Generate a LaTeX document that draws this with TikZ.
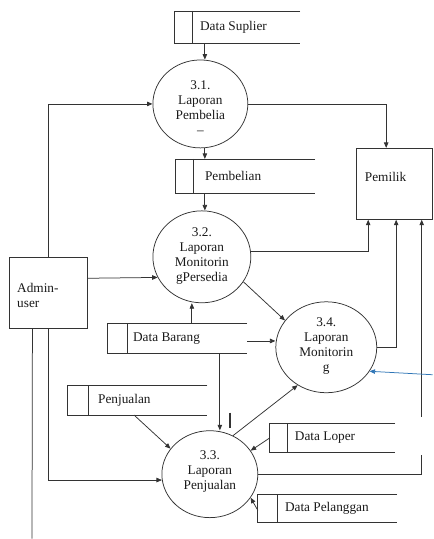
\documentclass[tikz,border=0pt]{standalone}
\usepackage{fontspec}
\setmainfont{Liberation Serif}
\usetikzlibrary{arrows.meta,shapes.geometric}
\definecolor{ln}{HTML}{333333}
\definecolor{tx}{HTML}{1A1A1A}
\definecolor{blueln}{RGB}{46,117,182}

\tikzset{
  ln/.style={draw=ln, line width=0.75pt},
  arr/.style={ln, -{Triangle[length=5.5pt,width=4.5pt]}},
  proc/.style={ellipse, draw=ln, line width=0.75pt, inner sep=0pt},
  ent/.style={rectangle, draw=ln, line width=0.9pt, inner sep=0pt, anchor=north west},
  storefrm/.style={rectangle, inner sep=0pt, anchor=north west},
  lbl/.style={inner sep=0pt, text=tx, font=\fontsize{13.3pt}{15pt}\selectfont},
}

% data store: name, left, top, width, height, divider offset, text gap, text
\newcommand\dfdstore[8]{%
  \node[storefrm, minimum width=#4pt, minimum height=#5pt] (#1) at (#2,#3) {};
  \draw[ln] (#1.north east) -| (#1.south west) -- (#1.south east);
  \draw[ln] ([xshift=#6pt]#1.north west) -- ([xshift=#6pt]#1.south west);
  \node[lbl, anchor=west] (#1-t) at ([xshift=#6pt+#7pt]#1.west) {#8};
}

\begin{document}
\begin{tikzpicture}[x=1pt, y=-1pt]
  \fill[white] (0,0) rectangle (433,539);

  % processes
  \node[proc, minimum width=95pt, minimum height=88pt] (p31) at (200.5,104) {};
  \node[proc, minimum width=98pt, minimum height=92pt] (p32) at (202,257) {};
  \node[proc, minimum width=101pt, minimum height=91pt] (p34) at (326.5,347.5) {};
  \node[proc, minimum width=96pt, minimum height=87pt] (p33) at (210,474.5) {};

  \node[lbl, align=center, yshift=-3.5pt] (p31-t) at (p31) {3.1.\\Laporan\\Pembelia\\--};
  \node[lbl, align=center, yshift=1pt] (p32-t) at (p32) {3.2.\\Laporan\\Monitorin\\gPersedia};
  \node[lbl, align=center, yshift=1pt] (p34-t) at (p34) {3.4.\\Laporan\\Monitorin\\g};
  \node[lbl, align=center, yshift=2.5pt] (p33-t) at (p33) {3.3.\\Laporan\\Penjualan};

  % external entities
  \node[ent, minimum width=78pt, minimum height=71pt] (admin) at (9,257) {};
  \node[lbl, align=left, anchor=west, xshift=8pt, yshift=-2.5pt] (admin-t) at (admin.west) {Admin-\\user};
  \node[ent, minimum width=76pt, minimum height=71pt] (pemilik) at (356,148) {};
  \node[lbl, anchor=west, xshift=9pt, yshift=6.5pt] (pemilik-t) at (pemilik.west) {Pemilik};

  % data stores
  \dfdstore{dsup}{174}{11}{126}{32}{19}{7}{Data Suplier}
  \dfdstore{pemb}{175}{159}{140}{34}{19}{11}{Pembelian}
  \dfdstore{dbar}{107}{324}{140}{29}{20}{6}{Data Barang}
  \dfdstore{penj}{67}{386}{140}{29}{21}{10}{Penjualan}
  \dfdstore{dlop}{270}{424}{125}{28}{18}{7}{Data Loper}
  \dfdstore{dpel}{258}{495}{139}{27}{20}{7}{Data Pelanggan}

  % helper coordinates
  \coordinate (xa) at (205,0);
  \coordinate (xb) at (192,0);
  \coordinate (xc) at (220,0);
  \coordinate (gapb) at (422,455);
  \coordinate (gapt) at (422,417);
  \coordinate (adminend) at (32,539);
  \coordinate (bluestart) at (433,375);

  % flows along the centre column
  \draw[arr] (dsup.south -| xa) -- (p31.north -| xa);
  \draw[arr] (p31.south -| xa) -- (pemb.north -| xa);
  \draw[arr] (pemb.south -| xa) -- (p32.north -| xa);

  % flows to Pemilik
  \draw[arr] (p31.east) -| ([xshift=-8pt]pemilik.north);
  \draw[arr] (p32.6) -| ([xshift=-26pt]pemilik.south);
  \draw[arr] (p34.east) -| ([xshift=2pt]pemilik.south);
  \draw[ln] (p33.east) -| (gapb);
  \draw[arr] (gapt) -- (gapt |- pemilik.south);

  % flows from Admin-user
  \draw[arr] (admin.north) |- (p31.west);
  \draw[arr] ([yshift=14.5pt]admin.east) -- (p32.205);
  \draw[arr] (admin.south) |- (p33.187);
  \draw[ln] ([xshift=-16pt]admin.south) -- (adminend);

  % flows from Data Barang
  \draw[arr] (dbar.north -| xb) -- (p32.south -| xb);
  \draw[arr] ([yshift=-2.5pt]dbar.east) -- ([yshift=-2.5pt]dbar.east -| p34.west);
  \draw[arr] (dbar.south -| xc) -- (p33.north -| xc);
  \draw[ln, line width=1.6pt] (230,413) -- (230,428);

  % flows between processes
  \draw[arr] (p32.-31) -- (p34.147);
  \draw[arr] (p33.59) -- (p34.233);

  % flows into 3.3
  \draw[arr] ([xshift=-3pt]penj.south) -- (p33.147);
  \draw[arr] (dlop.west) -- (p33.30);
  \draw[arr] ([yshift=-2pt]dpel.west) -- (p33.-30);

  % incoming flow from the right edge
  \draw[draw=blueln, line width=0.75pt, -{Triangle[length=5.5pt,width=4.5pt]}] (bluestart) -- (p34.-29);
\end{tikzpicture}
\end{document}
